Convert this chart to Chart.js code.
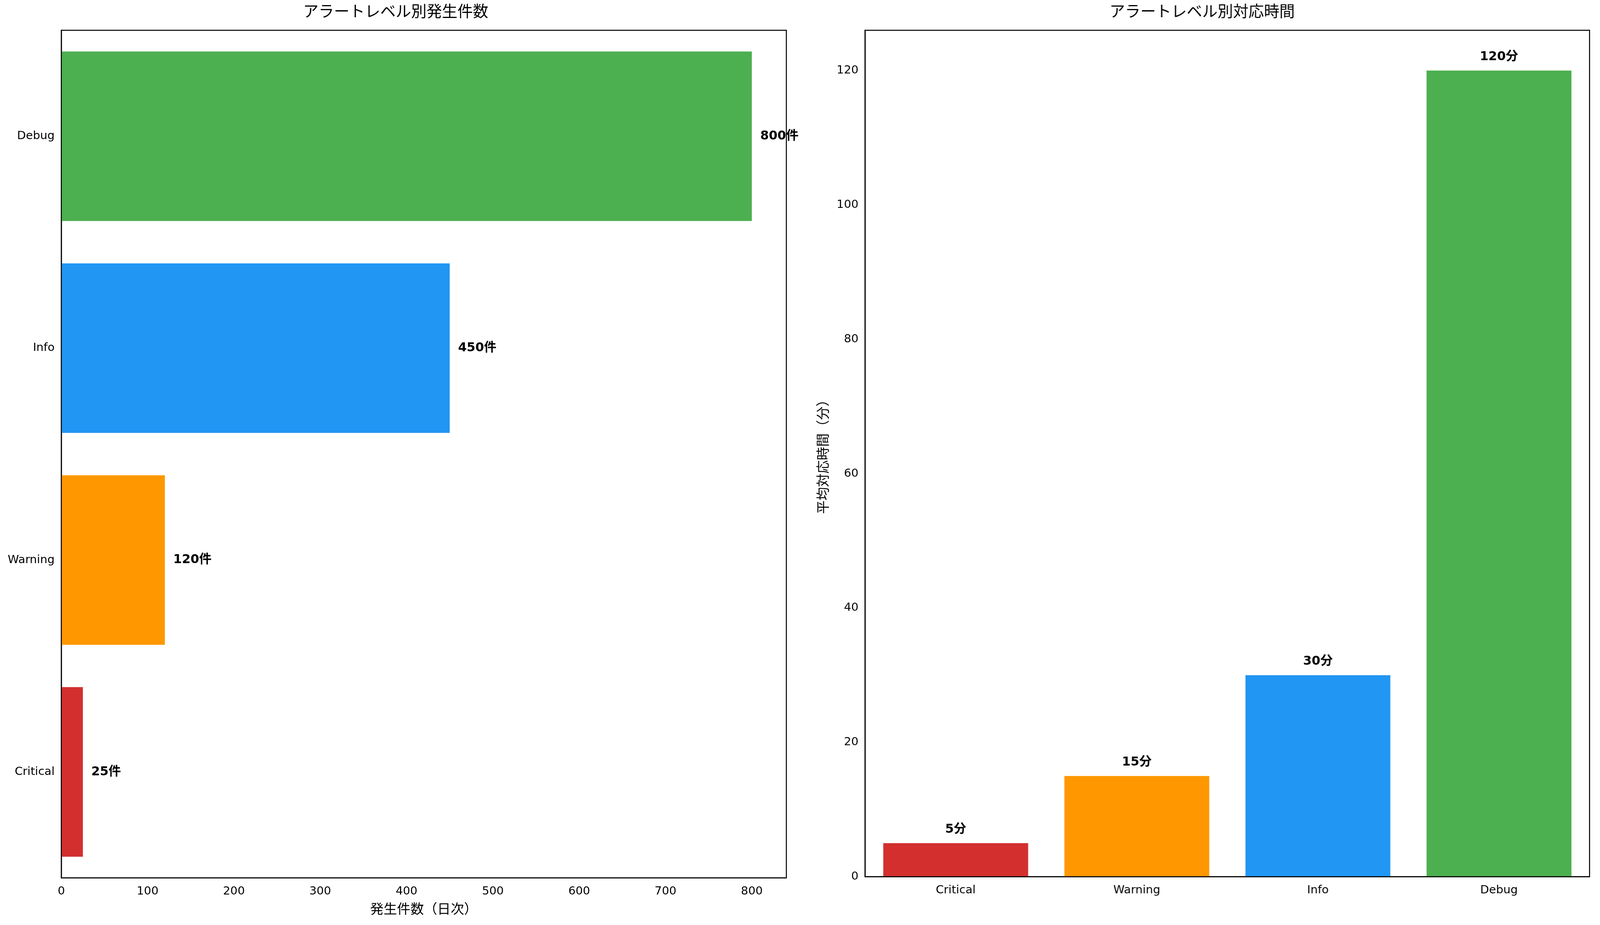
<!DOCTYPE html>
<html><head><meta charset="utf-8">
<script src="https://cdn.jsdelivr.net/npm/chart.js@4/dist/chart.umd.min.js"></script>
<style>
html,body{margin:0;background:#fff;width:100%;height:100%;overflow:hidden}
.box{position:absolute;top:0;height:100vh}
#b1{left:0;width:50.3vw}
#b2{left:50.3vw;width:49.7vw}
</style></head><body>
<div class="box" id="b1"><canvas id="c1"></canvas></div>
<div class="box" id="b2"><canvas id="c2"></canvas></div>
<script>
// -------- DATA --------
const levels = ["Critical", "Warning", "Info", "Debug"];
const colors = ["#d32f2f", "#ff9800", "#2196f3", "#4caf50"];
const counts = [25, 120, 450, 800];
const minutes = [5, 15, 30, 120];

// scale everything to the real viewport width (reference is 4769 wide)
const s = window.innerWidth / 4769;
const FONT = "'DejaVu Sans', 'Noto Sans CJK JP', sans-serif";
Chart.defaults.font.family = FONT;
Chart.defaults.color = "#000";

const frame = {
    id: "frame",
    afterDraw(chart, args, opts) {
        const c = chart.ctx, a = chart.chartArea;
        c.save();
        c.strokeStyle = "#000"; c.lineWidth = 3 * s;
        c.strokeRect(a.left, a.top, a.right - a.left, a.bottom - a.top);
        c.font = "bold " + (37 * s) + "px " + FONT;
        c.fillStyle = "#000";
        const meta = chart.getDatasetMeta(0);
        chart.data.datasets[0].data.forEach((v, i) => {
            const el = meta.data[i];
            if (opts.horizontal) {
                c.textAlign = "left"; c.textBaseline = "middle";
                c.fillText(v + opts.unit, el.x + 25 * s, el.y);
            } else {
                c.textAlign = "center"; c.textBaseline = "bottom";
                c.fillText(v + opts.unit, el.x, el.y - 22 * s);
            }
        });
        c.restore();
    }
};

const tickStyle = { font: { size: 34 * s }, color: "#000", padding: 8 * s };
const gridOff = { display: false, drawTicks: true, tickLength: 12 * s, tickColor: "#000" };
const stepOnly = step => axis => { axis.ticks = axis.ticks.filter(t => t.value % step === 0); };

// -------- LEFT: counts --------
new Chart(document.getElementById("c1"), {
    type: "bar",
    data: {
        labels: levels.slice().reverse(),
        datasets: [{
            data: counts.slice().reverse(),
            backgroundColor: colors.slice().reverse(),
            categoryPercentage: 1, barPercentage: 0.8
        }]
    },
    options: {
        indexAxis: "y", maintainAspectRatio: false, animation: false,
        layout: { padding: { left: 15 * s, right: 55 * s, top: 10 * s, bottom: 15 * s } },
        plugins: {
            legend: { display: false }, tooltip: { enabled: false },
            title: { display: true, text: "アラートレベル別発生件数", font: { size: 46 * s, weight: "normal" }, padding: { top: 0, bottom: 25 * s } },
            frame: { horizontal: true, unit: "件" }
        },
        scales: {
            x: { min: 0, max: 840, afterBuildTicks: stepOnly(100), ticks: tickStyle, grid: gridOff, border: { color: "#000", width: 3 * s },
                 title: { display: true, text: "発生件数（日次）", font: { size: 40 * s }, padding: { top: 4 * s } } },
            y: { ticks: tickStyle, grid: gridOff, border: { color: "#000", width: 3 * s } }
        }
    },
    plugins: [frame]
});

// -------- RIGHT: minutes --------
new Chart(document.getElementById("c2"), {
    type: "bar",
    data: {
        labels: levels,
        datasets: [{ data: minutes, backgroundColor: colors, categoryPercentage: 1, barPercentage: 0.8 }]
    },
    options: {
        maintainAspectRatio: false, animation: false,
        layout: { padding: { left: 30 * s, right: 32 * s, top: 10 * s, bottom: 75 * s } },
        plugins: {
            legend: { display: false }, tooltip: { enabled: false },
            title: { display: true, text: "アラートレベル別対応時間", font: { size: 46 * s, weight: "normal" }, padding: { top: 0, bottom: 25 * s } },
            frame: { horizontal: false, unit: "分" }
        },
        scales: {
            x: { ticks: tickStyle, grid: gridOff, border: { color: "#000", width: 3 * s } },
            y: { min: 0, max: 126, afterBuildTicks: stepOnly(20), ticks: tickStyle, grid: gridOff, border: { color: "#000", width: 3 * s },
                 title: { display: true, text: "平均対応時間（分）", font: { size: 40 * s } } }
        }
    },
    plugins: [frame]
});
</script>
</body></html>
